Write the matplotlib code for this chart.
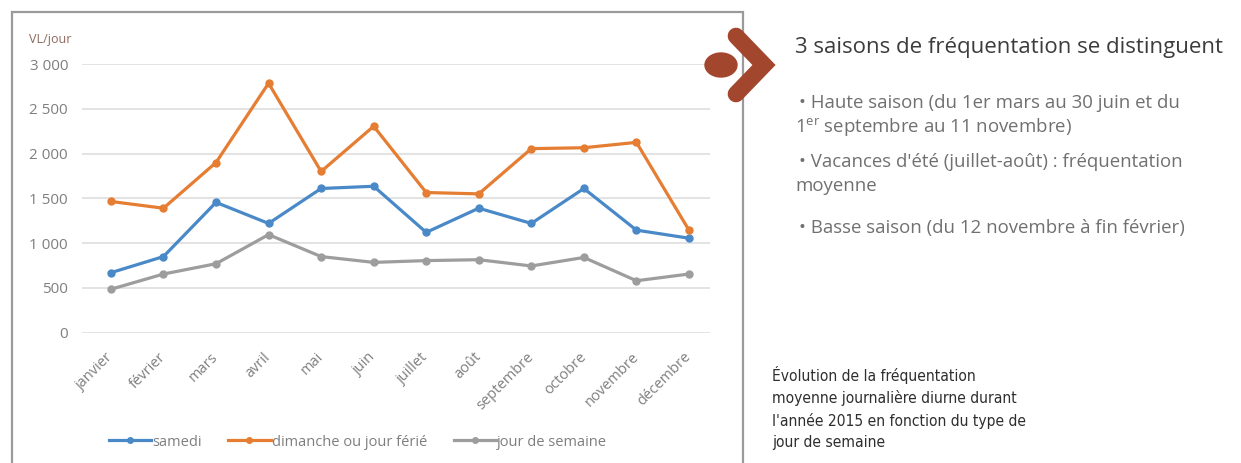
import matplotlib
matplotlib.use('Agg')
import matplotlib.pyplot as plt
from matplotlib.lines import Line2D
from matplotlib.patches import Ellipse, Rectangle
from matplotlib.ticker import FuncFormatter

mois = ['janvier', 'février', 'mars', 'avril', 'mai', 'juin', 'juillet',
        'août', 'septembre', 'octobre', 'novembre', 'décembre']
samedi = [670, 850, 1455, 1220, 1610, 1635, 1120, 1390, 1220, 1610, 1145, 1055]
dimanche = [1465, 1390, 1900, 2785, 1800, 2305, 1565, 1550, 2055, 2065, 2125, 1145]
semaine = [485, 655, 770, 1095, 850, 785, 805, 815, 745, 840, 580, 655]
y_ticks = [0, 500, 1000, 1500, 2000, 2500, 3000]

W, H = 1241, 463

def fx(px):
    return px / W

def fy(py):
    return 1 - py / H

plt.rcParams['font.family'] = ['Open Sans', 'DejaVu Sans']
plt.rcParams['mathtext.fontset'] = 'custom'
plt.rcParams['mathtext.rm'] = 'Open Sans'

fig = plt.figure(figsize=(W / 100, H / 100), dpi=100)
fig.patch.set_facecolor('white')

# cadre du graphique
fig.add_artist(Rectangle((fx(12), fy(475)), fx(743) - fx(12), fy(12) - fy(475),
                         transform=fig.transFigure, fill=False,
                         edgecolor='#9a9a9a', linewidth=1.6))

ax = fig.add_axes([fx(82), fy(332.7), fx(710) - fx(82), fy(64) - fy(332.7)])
x = list(range(len(mois)))
ax.plot(x, samedi, color='#4a89c8', lw=2.3, marker='o', ms=5, label='samedi')
ax.plot(x, dimanche, color='#e57d32', lw=2.3, marker='o', ms=5,
        label='dimanche ou jour férié')
ax.plot(x, semaine, color='#9d9d9d', lw=2.3, marker='o', ms=5,
        label='jour de semaine')

ax.set_xlim(-0.55, 11.4)
ax.set_ylim(0, 3000)
ax.set_yticks(y_ticks)
ax.yaxis.set_major_formatter(FuncFormatter(lambda v, p: f'{int(v):,}'.replace(',', ' ')))
ax.set_xticks(x)
ax.set_xticklabels(mois, rotation=45, ha='right', va='center',
                   rotation_mode='anchor')
ax.tick_params(axis='both', length=0, colors='#7f7f7f')
ax.tick_params(axis='y', pad=10, labelsize=11)
ax.tick_params(axis='x', pad=16, labelsize=10.5)
ax.grid(axis='y', color='#dedede', lw=1.2)
ax.set_axisbelow(True)
for s in ax.spines.values():
    s.set_visible(False)

fig.text(fx(29), fy(39), 'VL/jour', fontsize=9, color='#8c6a60', va='center')

leg = fig.legend(loc='center', bbox_to_anchor=(fx(358), fy(442)), ncol=3,
                 frameon=False, fontsize=10.5, labelcolor='#7f7f7f',
                 handlelength=2.9, columnspacing=1.8, handletextpad=0.1)
for h in leg.legend_handles:
    h.set_markersize(4)

# flèche décorative
brun = '#a3462e'
fig.add_artist(Line2D([fx(736), fx(764), fx(736)], [fy(36), fy(65), fy(94)],
                      transform=fig.transFigure, color=brun, lw=12,
                      solid_capstyle='round', solid_joinstyle='miter'))
fig.add_artist(Ellipse((fx(721), fy(65)), 32 / W, 24 / H,
                       transform=fig.transFigure, color=brun))

fig.text(fx(795), fy(47), '3 saisons de fréquentation se distinguent',
         fontsize=16, color='#3c3c3c', va='center')
gris = '#707070'
fs = 13.4
fig.text(fx(799), fy(103), '• Haute saison (du 1er mars au 30 juin et du',
         fontsize=fs, color=gris, va='center')
fig.text(fx(795), fy(128), r'1$^{\mathrm{er}}$ septembre au 11 novembre)',
         fontsize=fs, color=gris, va='center')
fig.text(fx(799), fy(162), "• Vacances d'été (juillet-août) : fréquentation",
         fontsize=fs, color=gris, va='center')
fig.text(fx(795), fy(186), 'moyenne', fontsize=fs, color=gris, va='center')
fig.text(fx(799), fy(228), '• Basse saison (du 12 novembre à fin février)',
         fontsize=fs, color=gris, va='center')

fig.text(fx(772), fy(366),
         "Évolution de la fréquentation\nmoyenne journalière diurne durant\n"
         "l'année 2015 en fonction du type de\njour de semaine",
         fontsize=11.2, color='#2e2e2e', va='top', linespacing=1.5,
         family=['DejaVu Sans'], fontstretch='condensed')

fig.savefig('out.png', dpi=100, facecolor='white')
